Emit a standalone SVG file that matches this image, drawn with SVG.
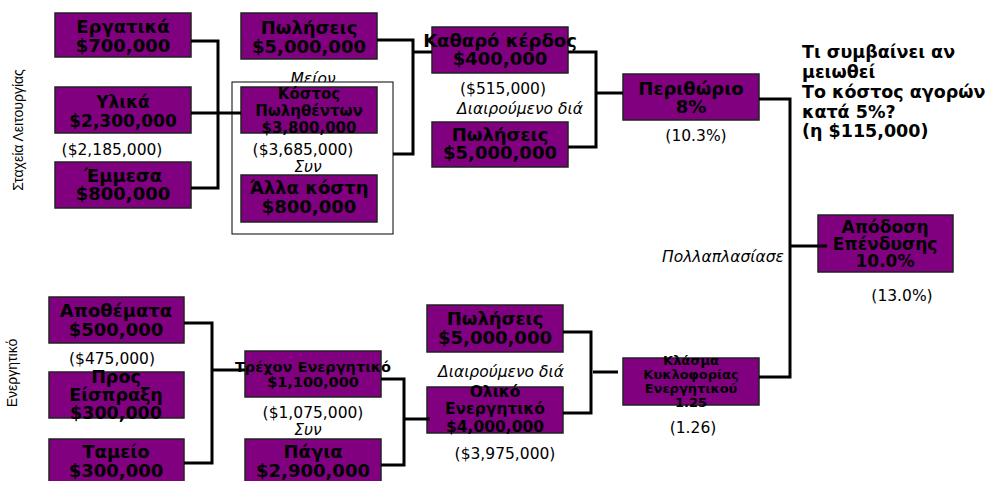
<svg xmlns="http://www.w3.org/2000/svg" width="999" height="481" viewBox="0 0 999 481">
<style>
.box{fill:#800080;stroke:#222;stroke-width:1.5}
.frame{fill:#fff;stroke:#000;stroke-width:1}
.b{font-family:"DejaVu Sans","Liberation Sans",sans-serif;font-weight:bold;text-anchor:middle;fill:#000}
.v{font-family:"DejaVu Sans","Liberation Sans",sans-serif;font-size:15.5px;text-anchor:middle;fill:#000}
.i{font-family:"DejaVu Sans","Liberation Sans",sans-serif;font-style:italic;font-size:15.5px;text-anchor:middle;fill:#000}
.side{font-family:"Liberation Sans",Arial,sans-serif;font-size:14px;text-anchor:middle;fill:#000}
.c{fill:none;stroke:#000;stroke-width:3}
.q{font-family:"DejaVu Sans","Liberation Sans",sans-serif;font-weight:bold;font-size:17.5px;fill:#000}
</style>
<rect width="999" height="481" fill="#fff"/>
<text class="side" transform="translate(23,130) rotate(-90)">Σταχεία Λειτουργίας</text>
<text class="side" transform="translate(17,373) rotate(-90)">Ενεργητικό</text>

<text class="i" x="313" y="84">Μείον</text>
<rect class="frame" x="232" y="82" width="161" height="152"/>

<g id="n-ergatika"><rect class="box" x="55" y="13" width="136" height="44"/><text class="b" font-size="18" x="123" y="33">Εργατικά</text><text class="b" font-size="18" x="123" y="52">$700,000</text></g>
<g id="n-ylika"><rect class="box" x="55" y="87" width="136" height="46"/><text class="b" font-size="17" x="123" y="108">Υλικά</text><text class="b" font-size="17" x="123" y="127">$2,300,000</text></g>
<text class="v" x="112" y="155">($2,185,000)</text>
<g id="n-emmesa"><rect class="box" x="55" y="162" width="136" height="46"/><text class="b" font-size="18" x="123" y="182">Έμμεσα</text><text class="b" font-size="18" x="123" y="200">$800,000</text></g>

<g id="n-poliseis1"><rect class="box" x="241" y="13" width="136" height="46"/><text class="b" font-size="18" x="309" y="34">Πωλήσεις</text><text class="b" font-size="18" x="309" y="53">$5,000,000</text></g>
<g id="n-kostos"><rect class="box" x="241" y="87" width="136" height="46"/><text class="b" font-size="15" x="309" y="99">Κόστος</text><text class="b" font-size="15" x="309" y="116">Πωληθέντων</text><text class="b" font-size="15" x="309" y="133">$3,800,000</text></g>
<text class="v" x="303" y="155">($3,685,000)</text>
<text class="i" x="308" y="172">Συν</text>
<g id="n-alla"><rect class="box" x="241" y="175" width="136" height="47"/><text class="b" font-size="18" x="309" y="194">Άλλα κόστη</text><text class="b" font-size="18" x="309" y="213">$800,000</text></g>

<g id="n-kathara"><rect class="box" x="432" y="27" width="136" height="46"/><text class="b" font-size="18" x="500" y="47">Καθαρό κέρδος</text><text class="b" font-size="18" x="500" y="65">$400,000</text></g>
<text class="v" x="503" y="94">($515,000)</text>
<text class="i" x="520" y="114">Διαιρούμενο διά</text>
<g id="n-poliseis2"><rect class="box" x="432" y="122" width="136" height="45"/><text class="b" font-size="18" x="500" y="141">Πωλήσεις</text><text class="b" font-size="18" x="500" y="159">$5,000,000</text></g>

<g id="n-perithorio"><rect class="box" x="623" y="74" width="136" height="46"/><text class="b" font-size="18" x="691" y="95">Περιθώριο</text><text class="b" font-size="18" x="691" y="113">8%</text></g>
<text class="v" x="696" y="141">(10.3%)</text>

<g id="question"><text class="q" x="802" y="58">Τι συμβαίνει αν</text><text class="q" x="802" y="78">μειωθεί</text><text class="q" x="802" y="98">Το κόστος αγορών</text><text class="q" x="802" y="118">κατά 5%?</text><text class="q" x="802" y="137">(η $115,000)</text></g>

<g id="n-apodosi"><rect class="box" x="818" y="215" width="135" height="57"/><text class="b" font-size="17" x="885" y="233">Απόδοση</text><text class="b" font-size="17" x="885" y="250">Επένδυσης</text><text class="b" font-size="17" x="885" y="267">10.0%</text></g>
<text class="i" x="723" y="262">Πολλαπλασίασε</text>
<text class="v" x="902" y="301">(13.0%)</text>

<g id="n-apothemata"><rect class="box" x="49" y="297" width="135" height="46"/><text class="b" font-size="18" x="116" y="317">Αποθέματα</text><text class="b" font-size="18" x="116" y="336">$500,000</text></g>
<text class="v" x="112" y="364">($475,000)</text>
<g id="n-eispraxi"><rect class="box" x="49" y="372" width="135" height="46"/><text class="b" font-size="17.5" x="116" y="383">Προς</text><text class="b" font-size="17.5" x="116" y="401">Είσπραξη</text><text class="b" font-size="17.5" x="116" y="419">$300,000</text></g>
<g id="n-tameio"><rect class="box" x="49" y="439" width="135" height="50"/><text class="b" font-size="18" x="116" y="458">Ταμείο</text><text class="b" font-size="18" x="116" y="477">$300,000</text></g>

<g id="n-trexon"><rect class="box" x="245" y="351" width="136" height="46"/><text class="b" font-size="14.5" x="313" y="372">Τρέχον Ενεργητικό</text><text class="b" font-size="14.5" x="313" y="387">$1,100,000</text></g>
<text class="v" x="313" y="418">($1,075,000)</text>
<text class="i" x="308" y="435">Συν</text>
<g id="n-pagia"><rect class="box" x="245" y="439" width="136" height="50"/><text class="b" font-size="18" x="313" y="458">Πάγια</text><text class="b" font-size="18" x="313" y="477">$2,900,000</text></g>

<g id="n-poliseis3"><rect class="box" x="427" y="305" width="136" height="47"/><text class="b" font-size="18" x="495" y="325">Πωλήσεις</text><text class="b" font-size="18" x="495" y="344">$5,000,000</text></g>
<text class="i" x="501" y="377">Διαιρούμενο διά</text>
<g id="n-oliko"><rect class="box" x="427" y="387" width="136" height="46"/><text class="b" font-size="15.5" x="495" y="397">Ολικό</text><text class="b" font-size="15.5" x="495" y="414">Ενεργητικό</text><text class="b" font-size="15.5" x="495" y="432">$4,000,000</text></g>
<text class="v" x="505" y="459">($3,975,000)</text>

<g id="n-klasma"><rect class="box" x="623" y="358" width="136" height="47"/><text class="b" font-size="13" x="691" y="365">Κλάσμα</text><text class="b" font-size="13" x="691" y="379">Κυκλοφορίας</text><text class="b" font-size="13" x="691" y="393">Ενεργητικού</text><text class="b" font-size="13" x="691" y="407">1.25</text></g>
<text class="v" x="693" y="433">(1.26)</text>

<g id="connectors">
<path class="c" d="M191,41 H218 V188 H191"/>
<path class="c" d="M191,113 H241"/>
<path class="c" d="M377,40 H413 V154 H393"/>
<path class="c" d="M413,52 H432"/>
<path class="c" d="M568,52 H596 V147 H568"/>
<path class="c" d="M597,93 H623"/>
<path class="c" d="M759,99 H790 V377 H759"/>
<path class="c" d="M790,246 H827"/>
<path class="c" d="M184,323 H212 V463 H184"/>
<path class="c" d="M212,370 H245"/>
<path class="c" d="M381,379 H404 V465 H381"/>
<path class="c" d="M404,419 H430"/>
<path class="c" d="M563,332 H591 V413 H563"/>
<path class="c" d="M593,372 H618"/>
</g>
</svg>
